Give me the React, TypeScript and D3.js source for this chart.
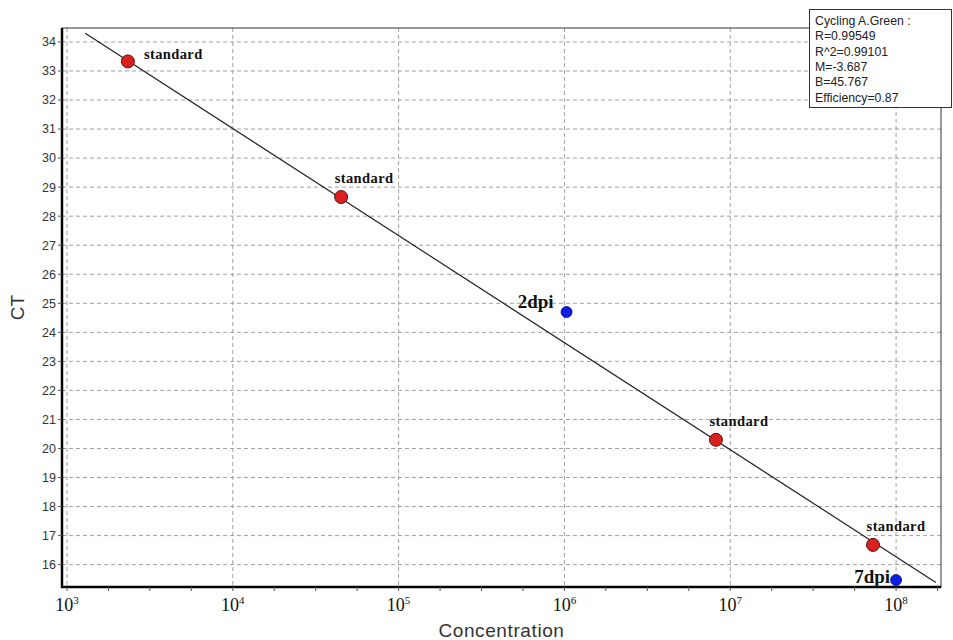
import * as d3 from "d3";
import React from "react";

// standards and samples
const standardConc = [2.33e3, 4.5e4, 8.2e6, 7.26e7];
const standardCt = [33.33, 28.66, 20.3, 16.68];
const sampleNames = ["2dpi", "7dpi"];
const sampleConc = [1.03e6, 1.0e8];
const sampleCt = [24.7, 15.47];

// fit reported by the instrument
const fitSlope = -3.687;
const fitIntercept = 45.767;
const fitRange = [10 ** 3.11, 10 ** 8.24];
const statsLines = [
  "Cycling A.Green :",
  "R=0.99549",
  "R^2=0.99101",
  "M=-3.687",
  "B=45.767",
  "Efficiency=0.87",
];
const yTicks = [16, 17, 18, 19, 20, 21, 22, 23, 24, 25, 26, 27, 28, 29, 30, 31, 32, 33, 34];
const xDecades = [3, 4, 5, 6, 7, 8];

const W = 953;
const H = 640;
const left = 62;
const right = 941;
const top = 28;
const bottom = 587;

export default function App() {
  const x = d3.scaleLog().domain([10 ** 2.97, 10 ** 8.271]).range([left, right]);
  const y = d3.scaleLinear().domain([15.23, 34.48]).range([bottom, top]);

  const minorTicks: number[] = [];
  for (let e = 3; e <= 8.25; e += 0.25) {
    if (Math.abs(e - Math.round(e)) > 0.01) minorTicks.push(10 ** e);
  }

  const fitLine = d3
    .line<number>()
    .x((c) => x(c))
    .y((c) => y(fitSlope * Math.log10(c) + fitIntercept));

  const sans = "Liberation Sans, Arial, sans-serif";
  const serif = "Liberation Serif, Times New Roman, serif";

  return (
    <svg width={W} height={H} style={{ position: "absolute", left: 0, top: 0, background: "#fff" }}>
      {/* grid */}
      {yTicks.map((t) => (
        <line key={"gy" + t} x1={left} x2={right} y1={y(t)} y2={y(t)} stroke="#a0a0a0" strokeDasharray="4,3" />
      ))}
      {xDecades.map((d) => (
        <line key={"gx" + d} x1={x(10 ** d)} x2={x(10 ** d)} y1={top} y2={bottom} stroke="#a0a0a0" strokeDasharray="4,3" />
      ))}

      {/* frame */}
      <rect x={left} y={top} width={right - left} height={bottom - top} fill="none" stroke="#333" strokeWidth={1} />
      <line x1={left} x2={left} y1={top} y2={bottom + 1} stroke="#000" strokeWidth={2.5} />
      <line x1={left - 1} x2={right} y1={bottom} y2={bottom} stroke="#000" strokeWidth={2.5} />

      {/* y ticks */}
      {yTicks.map((t) => (
        <g key={"ty" + t}>
          <line x1={left - 4} x2={left} y1={y(t)} y2={y(t)} stroke="#555" />
          <text x={left - 6} y={y(t)} dy="0.35em" textAnchor="end" fontFamily={sans} fontSize={12.5} fill="#333">
            {t}
          </text>
        </g>
      ))}

      {/* x ticks */}
      {minorTicks.map((c, i) => (
        <line key={"mx" + i} x1={x(c)} x2={x(c)} y1={bottom} y2={bottom + 4} stroke="#555" />
      ))}
      {xDecades.map((d) => (
        <g key={"tx" + d}>
          <line x1={x(10 ** d)} x2={x(10 ** d)} y1={bottom} y2={bottom + 4} stroke="#555" />
          <text x={x(10 ** d)} y={bottom + 24} textAnchor="middle" fontFamily={serif} fontSize={18} fill="#111">
            10
            <tspan dy={-7} fontSize={11}>
              {d}
            </tspan>
          </text>
        </g>
      ))}

      {/* axis titles */}
      <text x={(left + right) / 2} y={H - 3} textAnchor="middle" fontFamily={sans} fontSize={19} letterSpacing={0.6} fill="#333">
        Concentration
      </text>
      <text
        transform={`translate(24,${(top + bottom) / 2}) rotate(-90)`}
        textAnchor="middle"
        fontFamily={sans}
        fontSize={19}
        fill="#333"
      >
        CT
      </text>

      {/* regression line */}
      <path d={fitLine(fitRange) ?? ""} fill="none" stroke="#222" strokeWidth={1.2} />

      {/* standards */}
      {standardConc.map((c, i) => (
        <circle key={"s" + i} cx={x(c)} cy={y(standardCt[i])} r={6.5} fill="#d9211f" stroke="#5a1010" strokeWidth={1} />
      ))}
      {standardConc.map((c, i) => {
        const first = i === 0;
        return (
          <text
            key={"sl" + i}
            x={first ? x(c) + 16 : x(c) + 23}
            y={first ? y(standardCt[i]) - 2 : y(standardCt[i]) - 14}
            textAnchor={first ? "start" : "middle"}
            fontFamily={serif}
            fontWeight="bold"
            fontSize={14.5}
            letterSpacing={0.4}
            fill="#111"
          >
            standard
          </text>
        );
      })}

      {/* samples */}
      {sampleConc.map((c, i) => (
        <circle key={"p" + i} cx={x(c)} cy={y(sampleCt[i])} r={5.5} fill="#0d1ee8" stroke="#0a0a60" strokeWidth={0.8} />
      ))}
      {sampleConc.map((c, i) => (
        <text
          key={"pl" + i}
          x={x(c) + (i === 0 ? -13 : -6)}
          y={y(sampleCt[i]) + (i === 0 ? -4 : 3)}
          textAnchor="end"
          fontFamily={serif}
          fontWeight="bold"
          fontSize={19}
          fill="#111"
        >
          {sampleNames[i]}
        </text>
      ))}

      {/* stats box */}
      <rect x={809.5} y={9.5} width={142} height={98} fill="#fff" stroke="#333" />
      {statsLines.map((s, i) => (
        <text key={"st" + i} x={815} y={25 + i * 15.3} fontFamily={sans} fontSize={12.3} fill="#222">
          {s}
        </text>
      ))}
    </svg>
  );
}
